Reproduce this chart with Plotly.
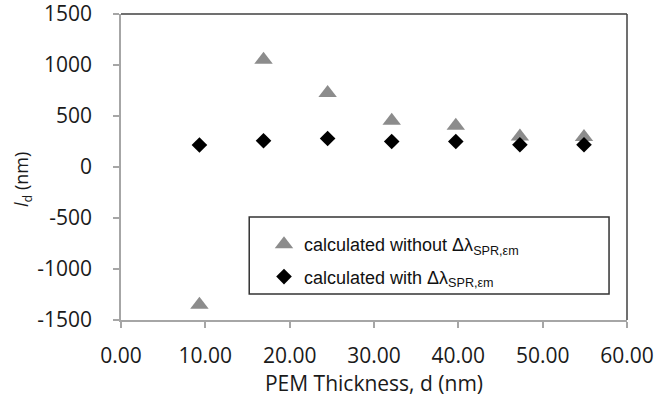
import plotly.graph_objects as go

# PEM thickness (nm)
thickness = [9.3, 16.9, 24.5, 32.1, 39.7, 47.3, 54.9]
# decay length values (nm)
without_shift = [-1350, 1052, 725, 454, 404, 300, 295]
with_shift = [216, 257, 280, 250, 250, 218, 218]

x_ticks = [0, 10, 20, 30, 40, 50, 60]
x_tick_text = ["0.00", "10.00", "20.00", "30.00", "40.00", "50.00", "60.00"]
y_ticks = [-1500, -1000, -500, 0, 500, 1000, 1500]
y_tick_text = ["-1500", "-1000", "-500", "0", "500", "1000", "1500"]

W, H = 657, 409
ML, MR, MT, MB = 121, 30, 14, 89

tick_font = dict(family="Open Sans", size=21, color="#1a1a1a")
axis_grey = "#a6a6a6"
frame_dark = "#404040"

fig = go.Figure()
fig.add_trace(go.Scatter(
    x=thickness, y=without_shift, mode="markers",
    name="calculated without Δλ<sub>SPR,εm</sub>", legendgroup="a",
    marker=dict(symbol="triangle-up", size=16, color="#8c8c8c", line=dict(width=0)),
))
fig.add_trace(go.Scatter(
    x=thickness, y=with_shift, mode="markers",
    name="calculated with Δλ<sub>SPR,εm</sub>", legendgroup="b",
    marker=dict(symbol="diamond", size=12, color="#000000", line=dict(width=0)),
))

# plot frame: dark top and right edges
fig.add_shape(type="line", xref="x domain", yref="y domain", x0=0, x1=1, y0=1, y1=1,
              line=dict(color=frame_dark, width=1.5))
fig.add_shape(type="line", xref="x domain", yref="y domain", x0=1, x1=1, y0=0, y1=1,
              line=dict(color=frame_dark, width=1.5))
# legend box
fig.add_shape(type="rect", xref="x domain", yref="y domain",
              x0=0.2534, x1=0.9645, y0=0.085, y1=0.337,
              line=dict(color="#333333", width=1.5), fillcolor="white", layer="below")

# y-axis title
fig.add_annotation(
    text="<i>l</i><sub>d</sub> (nm)", textangle=-90,
    xref="paper", yref="paper", x=(22 - ML) / (W - ML - MR), y=(H - MB - 180) / (H - MT - MB),
    xanchor="center", yanchor="middle", showarrow=False,
    font=dict(family="Open Sans", size=18, color="#1a1a1a"),
)

fig.update_layout(
    width=W, height=H,
    margin=dict(l=ML, r=MR, t=MT, b=MB, autoexpand=False),
    paper_bgcolor="white", plot_bgcolor="white",
    showlegend=True,
    legend=dict(
        x=(264 - ML) / (W - ML - MR), y=(H - MB - 226) / (H - MT - MB),
        xanchor="left", yanchor="top",
        bgcolor="rgba(0,0,0,0)", borderwidth=0,
        font=dict(family="Liberation Sans", size=18, color="#111111"),
        tracegroupgap=6, itemsizing="trace",
    ),
    xaxis=dict(
        range=[0, 60], tickvals=x_ticks, ticktext=x_tick_text,
        showgrid=False, zeroline=False, automargin=False,
        showline=True, linecolor=axis_grey, linewidth=1.5,
        ticks="outside", ticklen=6, tickcolor=axis_grey, tickwidth=1.5,
        tickfont=tick_font, ticklabelstandoff=10, ticklabeloverflow="allow",
        title=dict(text="PEM Thickness, d (nm)", font=tick_font, standoff=5),
    ),
    yaxis=dict(
        range=[-1500, 1500], tickvals=y_ticks, ticktext=y_tick_text,
        showgrid=False, zeroline=False, automargin=False,
        showline=True, linecolor=axis_grey, linewidth=1.5,
        ticks="outside", ticklen=6, tickcolor=axis_grey, tickwidth=1.5,
        tickfont=tick_font, ticklabelstandoff=17, ticklabeloverflow="allow",
    ),
)

fig.write_html("out.html")
